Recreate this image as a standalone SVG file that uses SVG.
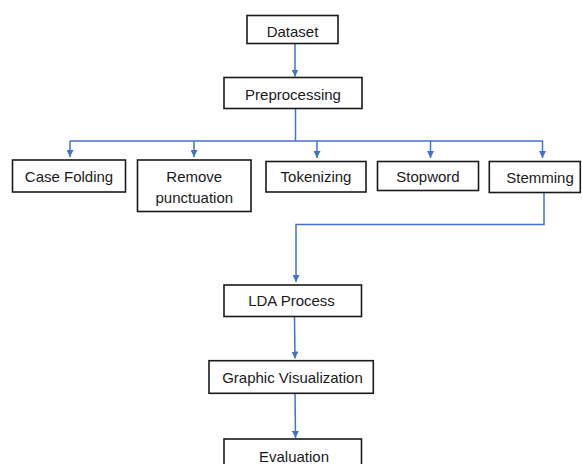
<svg xmlns="http://www.w3.org/2000/svg" width="582" height="464" viewBox="0 0 582 464">
<style>
.box{fill:#ffffff;stroke:#1a1a1a;stroke-width:1.6}
.lbl{font-family:"Liberation Sans",Arial,sans-serif;font-size:15px;fill:#1a1a1a;text-anchor:middle}
.con{fill:none;stroke:#4472c4;stroke-width:1.5}
</style>
<defs>
<marker id="ah" markerUnits="userSpaceOnUse" markerWidth="7" markerHeight="7" viewBox="0 0 7 7" refX="7" refY="3.5" orient="auto">
<path d="M0,0 L7,3.5 L0,7 z" fill="#4472c4"/>
</marker>
</defs>
<rect width="582" height="464" fill="#ffffff"/>
<g id="connectors">
<line class="con" x1="295" y1="43.5" x2="295" y2="76.5" marker-end="url(#ah)"/>
<line class="con" x1="295.5" y1="108.5" x2="295.5" y2="141"/>
<line class="con" x1="70" y1="141" x2="543" y2="141"/>
<line class="con" x1="70" y1="141" x2="70" y2="157" marker-end="url(#ah)"/>
<line class="con" x1="194" y1="141" x2="194" y2="157" marker-end="url(#ah)"/>
<line class="con" x1="317" y1="141" x2="317" y2="158" marker-end="url(#ah)"/>
<line class="con" x1="430.5" y1="141" x2="430.5" y2="158" marker-end="url(#ah)"/>
<line class="con" x1="542.5" y1="141" x2="542.5" y2="158" marker-end="url(#ah)"/>
<polyline class="con" points="544,192.5 544,224.5 296,224.5 296,282" marker-end="url(#ah)"/>
<line class="con" x1="294.5" y1="317" x2="295" y2="358.5" marker-end="url(#ah)"/>
<line class="con" x1="295" y1="393.5" x2="295.5" y2="438" marker-end="url(#ah)"/>
</g>
<g id="dataset"><rect class="box" x="247" y="15.5" width="91" height="28"/><text class="lbl" x="292.5" y="36.5">Dataset</text></g>
<g id="preprocessing"><rect class="box" x="224" y="77.5" width="138" height="31"/><text class="lbl" x="293" y="100">Preprocessing</text></g>
<g id="case-folding"><rect class="box" x="12.5" y="160" width="113" height="32"/><text class="lbl" x="69" y="181.5">Case Folding</text></g>
<g id="remove-punctuation"><rect class="box" x="137.5" y="160" width="113.5" height="51.5"/><text class="lbl" x="194.3" y="181.5">Remove</text><text class="lbl" x="194.3" y="202.5">punctuation</text></g>
<g id="tokenizing"><rect class="box" x="266" y="161.5" width="100" height="30.5"/><text class="lbl" x="316" y="182.3">Tokenizing</text></g>
<g id="stopword"><rect class="box" x="377.5" y="161.5" width="101" height="29"/><text class="lbl" x="428" y="182">Stopword</text></g>
<g id="stemming"><rect class="box" x="489.3" y="161.5" width="91" height="31"/><text class="lbl" x="540" y="182.5">Stemming</text></g>
<g id="lda-process"><rect class="box" x="224" y="285" width="137.5" height="31.5"/><text class="lbl" x="291.5" y="306">LDA Process</text></g>
<g id="graphic-visualization"><rect class="box" x="209" y="360.7" width="164.3" height="32.6"/><text class="lbl" x="292.5" y="382.7">Graphic Visualization</text></g>
<g id="evaluation"><rect class="box" x="224" y="439" width="137.5" height="35"/><text class="lbl" x="294" y="461.5">Evaluation</text></g>
</svg>
